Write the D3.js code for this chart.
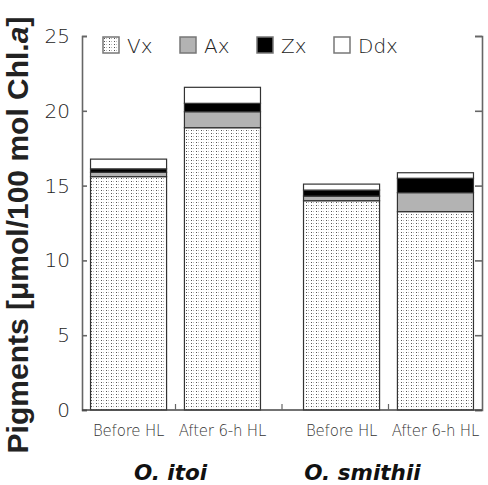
<!DOCTYPE html>
<html><head><meta charset="utf-8">
<script src="https://cdn.jsdelivr.net/npm/d3@7/dist/d3.min.js"></script>
<style>html,body{margin:0;padding:0;background:#fff;}svg{display:block;}</style>
</head><body><div id="chart"></div>
<script>
const groups = ["O. itoi", "O. smithii"];
const conditions = ["Before HL", "After 6-h HL"];
const pigments = ["Vx", "Ax", "Zx", "Ddx"];
const Vx  = [15.6, 18.87, 13.99, 13.26];
const Ax  = [0.29, 1.07, 0.31, 1.27];
const Zx  = [0.23, 0.56, 0.40, 0.96];
const Ddx = [0.65, 1.07, 0.40, 0.37];
const yTicks = [0, 5, 10, 15, 20, 25];

const W = 488, H = 485;
const m = {left: 82, right: 6, top: 36, bottom: 75};
const svg = d3.select("#chart").append("svg").attr("width", W).attr("height", H);
const lightFont = "'DejaVu Sans', sans-serif";

const defs = svg.append("defs");
const pat = defs.append("pattern").attr("id", "dots").attr("patternUnits", "userSpaceOnUse")
  .attr("width", 5).attr("height", 3);
pat.append("rect").attr("width", 5).attr("height", 3).attr("fill", "#fff");
pat.append("rect").attr("x", 1).attr("y", 1).attr("width", 1).attr("height", 1).attr("fill", "#555");
pat.append("rect").attr("x", 3).attr("y", 1).attr("width", 1).attr("height", 1).attr("fill", "#bbb");

const fills = {Vx: "url(#dots)", Ax: "#b3b3b3", Zx: "#000", Ddx: "#fff"};

const x0 = d3.scaleBand().domain(groups).range([m.left, W - m.right]).paddingInner(0.202).paddingOuter(0.04);
const x1 = d3.scaleBand().domain(conditions).range([0, x0.bandwidth()]).paddingInner(0.19).paddingOuter(0);
const y = d3.scaleLinear().domain([0, 25]).range([H - m.bottom, m.top]);

const rows = [];
groups.forEach((g, gi) => conditions.forEach((c, ci) => {
  const i = gi * 2 + ci;
  rows.push({group: g, cond: c, Vx: Vx[i], Ax: Ax[i], Zx: Zx[i], Ddx: Ddx[i]});
}));
const stacked = d3.stack().keys(pigments)(rows);

const barG = svg.append("g");
stacked.forEach(layer => {
  barG.selectAll(null).data(layer).join("rect")
    .attr("x", d => x0(d.data.group) + x1(d.data.cond))
    .attr("width", x1.bandwidth())
    .attr("y", d => y(d[1]))
    .attr("height", d => y(d[0]) - y(d[1]))
    .attr("fill", fills[layer.key])
    .attr("stroke", "#333").attr("stroke-width", 1.2);
});

// Axes frame
const axisColor = "#666";
const left = svg.append("g").attr("transform", `translate(${m.left},0)`)
  .call(d3.axisLeft(y).tickValues(yTicks).tickSize(-5).tickPadding(12));
const right = svg.append("g").attr("transform", `translate(${W - m.right},0)`)
  .call(d3.axisRight(y).tickValues(yTicks).tickSize(-7).tickFormat(""));
[left, right].forEach(a => {
  a.select(".domain").attr("stroke", axisColor).attr("stroke-width", 1.6);
  a.selectAll(".tick line").attr("stroke", axisColor).attr("stroke-width", 1.6);
});
left.selectAll(".tick text").attr("font-family", lightFont)
  .attr("font-weight", 200).attr("font-size", 20).attr("fill", "#222");

// bottom line and separator ticks
const sepPos = [];
rows.forEach((r, i) => {
  if (i < rows.length - 1) {
    const a = x0(r.group) + x1(r.cond) + x1.bandwidth();
    const n = rows[i + 1];
    const b = x0(n.group) + x1(n.cond);
    sepPos.push((a + b) / 2);
  }
});
const bottomAxis = svg.append("g").attr("transform", `translate(0,${y(0)})`);
bottomAxis.append("line").attr("x1", m.left).attr("x2", W - m.right).attr("stroke", "#444").attr("stroke-width", 1.4);
bottomAxis.selectAll(".sep").data(sepPos).join("line")
  .attr("x1", d => d).attr("x2", d => d).attr("y1", 0).attr("y2", -6)
  .attr("stroke", axisColor).attr("stroke-width", 1.2);

// condition labels
svg.append("g").selectAll("text").data(rows).join("text")
  .attr("x", d => x0(d.group) + x1(d.cond) + x1.bandwidth() / 2)
  .attr("y", y(0) + 26)
  .attr("text-anchor", "middle")
  .attr("font-family", lightFont).attr("font-weight", 200)
  .attr("font-size", 15).attr("letter-spacing", -0.2).attr("fill", "#333")
  .text(d => d.cond);

// group labels
const groupOffset = {"O. itoi": -5, "O. smithii": -26};
svg.append("g").selectAll("text").data(groups).join("text")
  .attr("x", d => x0(d) + x0.bandwidth() / 2 + groupOffset[d])
  .attr("y", y(0) + 70)
  .attr("text-anchor", "middle")
  .attr("font-family", lightFont).attr("font-weight", "bold")
  .attr("font-style", "italic").attr("font-size", 21.5).attr("fill", "#111")
  .text(d => d);

// y title
const yt = svg.append("text")
  .attr("transform", `translate(28,235) rotate(-90)`)
  .attr("text-anchor", "middle")
  .attr("font-family", "Arial, 'Liberation Sans', sans-serif").attr("font-weight", "bold")
  .attr("font-size", 30).attr("fill", "#222");
yt.append("tspan").text("Pigments [μmol/100 mol Chl.");
yt.append("tspan").attr("font-style", "italic").text("a");
yt.append("tspan").text("]");

// legend
const legX = d3.scalePoint().domain(pigments).range([103, 334]);
const leg = svg.append("g").selectAll("g").data(pigments).join("g")
  .attr("transform", d => `translate(${legX(d)},${m.top + 1})`);
leg.append("rect").attr("width", 16).attr("height", 16)
  .attr("fill", d => fills[d]).attr("stroke", "#777").attr("stroke-width", 1.5);
leg.append("text").attr("x", 24).attr("y", 15.5)
  .attr("font-family", lightFont).attr("font-weight", 200)
  .attr("font-size", 20).attr("fill", "#222").text(d => d);
</script></body></html>
